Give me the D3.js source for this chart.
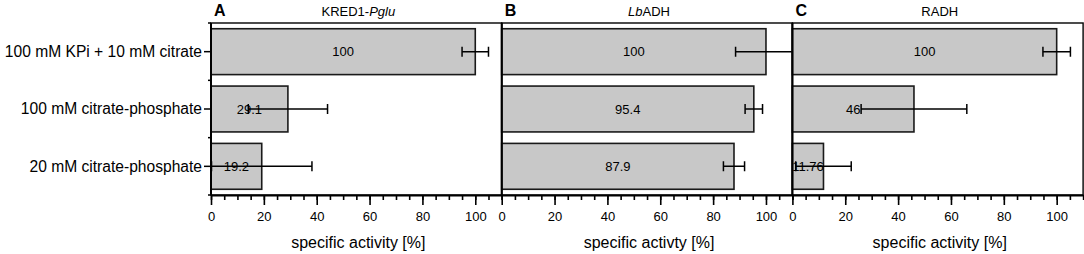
<!DOCTYPE html>
<html>
<head>
<meta charset="utf-8">
<script src="https://cdn.jsdelivr.net/npm/d3@7/dist/d3.min.js"></script>
<style>
  body { margin: 0; background: #fff; }
  text { font-family: "Liberation Sans", Arial, sans-serif; fill: #000; }
</style>
</head>
<body>
<div id="chart"></div>
<script>
// data
var categories = ["100 mM KPi + 10 mM citrate", "100 mM citrate-phosphate", "20 mM citrate-phosphate"];
var panelLetters = ["A", "B", "C"];
var panelTitles = [
    [["KRED1-", false], ["Pglu", true]],
    [["Lb", true], ["ADH", false]],
    [["RADH", false]]
];
var axisTitles = ["specific activity [%]", "specific activty [%]", "specific activity [%]"];
var valuesA = [100, 29.1, 19.2];
var errorsA = [5, 15, 19];
var valuesB = [100, 95.4, 87.9];
var errorsB = [11.5, 3.3, 4];
var valuesC = [100, 46, 11.76];
var errorsC = [5.2, 20, 10.5];
var labelsA = ["100", "29.1", "19.2"];
var labelsB = ["100", "95.4", "87.9"];
var labelsC = ["100", "46", "11.76"];
var majorTicks = [0, 20, 40, 60, 80, 100];

var panels = [
    { values: valuesA, errors: errorsA, labels: labelsA },
    { values: valuesB, errors: errorsB, labels: labelsB },
    { values: valuesC, errors: errorsC, labels: labelsC }
];

(function() {
    var width = 1084,
        height = 254;

    var top = 23, bottom = 195,
        left = 211, panelWidth = 290.7;

    var svg = d3.select("#chart")
        .append("svg")
        .attr("width", width)
        .attr("height", height);

    var y = d3.scaleBand()
        .domain(categories)
        .range([top, bottom])
        .paddingInner(0.2)
        .paddingOuter(0.1);

    var step = y.step();

    // category labels and ticks on the left axis of panel A
    var cat = svg.append("g");
    cat.selectAll("text")
        .data(categories)
        .enter()
        .append("text")
        .attr("x", left - 9)
        .attr("y", function(d) { return y(d) + y.bandwidth() / 2; })
        .attr("dy", "0.35em")
        .attr("text-anchor", "end")
        .style("font-size", "15.6px")
        .text(function(d) { return d; });

    cat.selectAll("line.center")
        .data(categories)
        .enter()
        .append("line")
        .attr("class", "center")
        .attr("x1", left - 7)
        .attr("x2", left)
        .attr("y1", function(d) { return y(d) + y.bandwidth() / 2; })
        .attr("y2", function(d) { return y(d) + y.bandwidth() / 2; })
        .style("stroke", "#000")
        .style("stroke-width", 1.5);

    cat.selectAll("line.edge")
        .data(d3.range(categories.length + 1))
        .enter()
        .append("line")
        .attr("class", "edge")
        .attr("x1", left - 3)
        .attr("x2", left)
        .attr("y1", function(i) { return top + i * step; })
        .attr("y2", function(i) { return top + i * step; })
        .style("stroke", "#000")
        .style("stroke-width", 1.5);

    panels.forEach(function(p, k) {
        var x0 = left + k * panelWidth;
        var x = d3.scaleLinear()
            .domain([0, 110])
            .range([x0, x0 + panelWidth]);

        var g = svg.append("g");

        g.append("clipPath")
            .attr("id", "clip" + k)
            .append("rect")
            .attr("x", x0)
            .attr("y", top)
            .attr("width", panelWidth)
            .attr("height", bottom - top);

        // bars
        g.selectAll("rect.bar")
            .data(p.values)
            .enter()
            .append("rect")
            .attr("class", "bar")
            .attr("x", x(0))
            .attr("y", function(d, i) { return y(categories[i]); })
            .attr("width", function(d) { return x(d) - x(0); })
            .attr("height", y.bandwidth())
            .style("fill", "#c8c8c8")
            .style("stroke", "#1a1a1a")
            .style("stroke-width", 1.6);

        // value labels in the middle of each bar
        g.selectAll("text.val")
            .data(p.values)
            .enter()
            .append("text")
            .attr("class", "val")
            .attr("x", function(d) { return x(d / 2); })
            .attr("y", function(d, i) { return y(categories[i]) + y.bandwidth() / 2; })
            .attr("dy", "0.35em")
            .attr("text-anchor", "middle")
            .style("font-size", "13px")
            .text(function(d, i) { return p.labels[i]; });

        // error bars
        var eb = g.append("g").attr("clip-path", "url(#clip" + k + ")");
        p.values.forEach(function(v, i) {
            var cy = y(categories[i]) + y.bandwidth() / 2;
            var lo = x(v - p.errors[i]), hi = x(v + p.errors[i]);
            eb.append("line")
                .attr("x1", lo).attr("x2", hi)
                .attr("y1", cy).attr("y2", cy);
            eb.append("line")
                .attr("x1", lo).attr("x2", lo)
                .attr("y1", cy - 5).attr("y2", cy + 5);
            eb.append("line")
                .attr("x1", hi).attr("x2", hi)
                .attr("y1", cy - 5).attr("y2", cy + 5);
        });
        eb.selectAll("line")
            .style("stroke", "#000")
            .style("stroke-width", 1.5);

        // frame (top and right border, left axis line)
        g.append("rect")
            .attr("x", x0)
            .attr("y", top)
            .attr("width", panelWidth)
            .attr("height", bottom - top)
            .style("fill", "none")
            .style("stroke", "#000")
            .style("stroke-width", 1.4);
        g.append("line")
            .attr("x1", x0).attr("x2", x0)
            .attr("y1", top).attr("y2", bottom)
            .style("stroke", "#000")
            .style("stroke-width", 2);

        // x axis: minor ticks every 5, major every 20
        var minor = g.append("g")
            .attr("transform", "translate(0," + bottom + ")")
            .call(d3.axisBottom(x).tickValues(d3.range(0, 111, 5)).tickSize(5).tickFormat(""));
        minor.select(".domain").remove();

        var major = g.append("g")
            .attr("transform", "translate(0," + bottom + ")")
            .call(d3.axisBottom(x).tickValues(majorTicks).tickSize(10).tickSizeOuter(0).tickPadding(7));
        major.select(".domain")
            .style("stroke-width", 2);
        major.selectAll("text")
            .style("font-size", "13px")
            .style("font-family", "Liberation Sans, Arial, sans-serif");
        g.selectAll(".tick line")
            .style("stroke", "#000")
            .style("stroke-width", 1.6);

        g.append("text")
            .attr("x", (x0 + x0 + panelWidth) / 2 + 2)
            .attr("y", 248)
            .attr("text-anchor", "middle")
            .style("font-size", "16px")
            .text(axisTitles[k]);

        // panel letter and title
        g.append("text")
            .attr("x", x0 + 3)
            .attr("y", 16)
            .style("font-size", "16px")
            .style("font-weight", "bold")
            .text(panelLetters[k]);

        var t = g.append("text")
            .attr("x", (x0 + x0 + panelWidth) / 2 + 2)
            .attr("y", 16)
            .attr("text-anchor", "middle")
            .style("font-size", "13px");
        panelTitles[k].forEach(function(part) {
            t.append("tspan")
                .style("font-style", part[1] ? "italic" : "normal")
                .text(part[0]);
        });
    });
})();
</script>
</body>
</html>
